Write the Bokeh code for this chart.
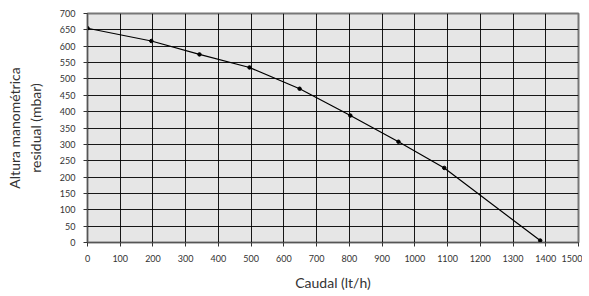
from bokeh.plotting import figure
from bokeh.models import FixedTicker, Range1d
from bokeh.embed import file_html
from bokeh.resources import INLINE

caudal = [0, 195, 342, 495, 648, 803, 950, 1090, 1383]
altura = [655, 616, 575, 535, 470, 388, 308, 228, 6]
x_ticks = list(range(0, 1501, 100))
y_ticks = list(range(0, 701, 50))

p = figure(frame_width=491, frame_height=229, output_backend="svg", toolbar_location=None,
           x_range=Range1d(0, 1500), y_range=Range1d(0, 700),
           min_border_left=87, min_border_top=13, min_border_right=4, min_border_bottom=10)
p.background_fill_color = "#e6e6e6"
p.outline_line_color = "#777777"
p.outline_line_width = 2

p.xaxis.ticker = FixedTicker(ticks=x_ticks)
p.yaxis.ticker = FixedTicker(ticks=y_ticks)
for ax in (p.xaxis, p.yaxis):
    ax.major_label_text_font = "Lato"
    ax.major_label_text_font_size = "9px"
    ax.major_label_text_color = "#333333"
    ax.axis_label_text_font = "Lato"
    ax.axis_label_text_font_size = "14px"
    ax.axis_label_text_font_style = "normal"
    ax.axis_label_text_color = "#333333"
    ax.axis_line_color = "#555555"
    ax.major_tick_line_color = "#333333"
    ax.major_tick_out = 4
    ax.major_tick_in = 0
    ax.minor_tick_line_color = None
p.xaxis.axis_label = "Caudal (lt/h)"
p.xaxis.major_label_standoff = 8
p.xaxis.axis_label_standoff = 9
p.yaxis.axis_label = "Altura manométrica\nresidual (mbar)"
p.yaxis.major_label_standoff = 8
p.yaxis.axis_label_standoff = 13
p.yaxis.axis_label_text_line_height = 1.25

p.xgrid.grid_line_color = "black"
p.ygrid.grid_line_color = "black"
p.xgrid.grid_line_alpha = 0.9
p.ygrid.grid_line_alpha = 0.9

p.line(caudal, altura, line_color="black", line_width=1.2)
p.scatter(caudal, altura, size=3.5, color="black")

open("out.html", "w").write(file_html(p, INLINE))
